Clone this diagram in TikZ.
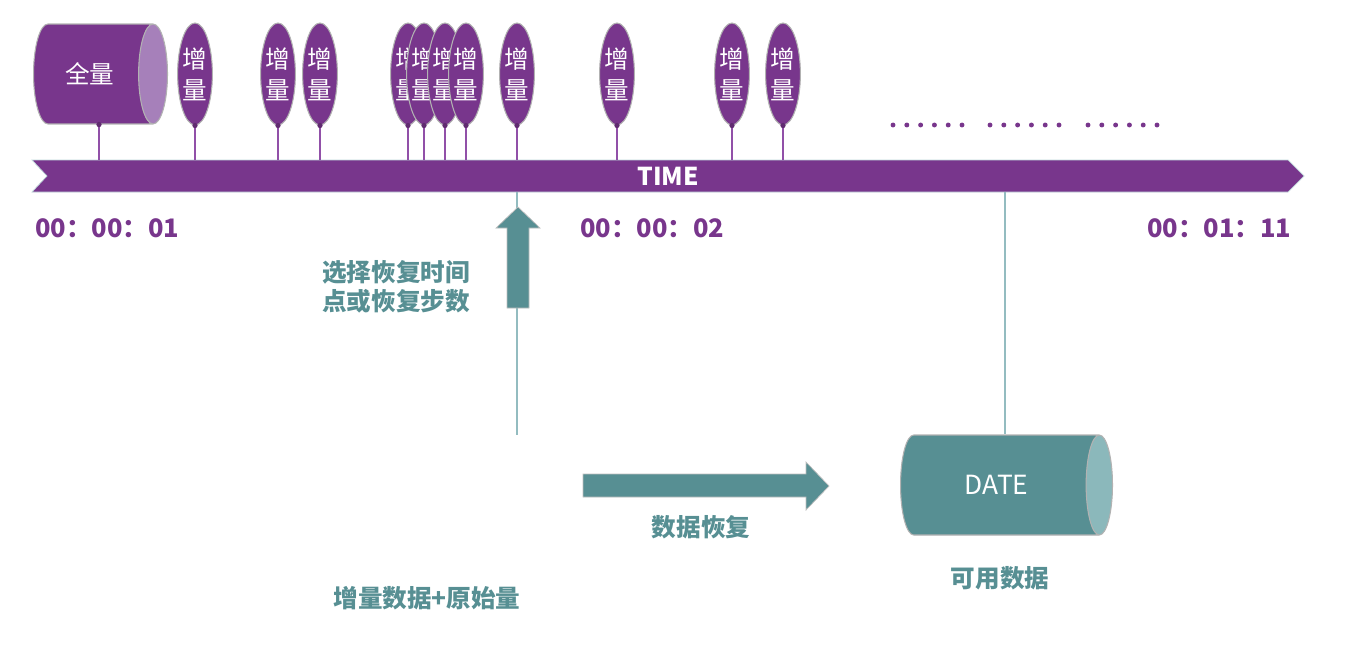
\documentclass[tikz,border=0pt]{standalone}
\usepackage{fontspec}
\setmainfont{Noto Sans CJK SC}
\usepackage{tikz}
\usetikzlibrary{shapes.geometric, positioning, calc}

\definecolor{tlpurple}{HTML}{78368C}
\definecolor{tlpurplelt}{HTML}{A680BA}
\definecolor{stempurple}{HTML}{9150A8}
\definecolor{rcteal}{HTML}{578F93}
\definecolor{rcteallt}{HTML}{8BB8BB}
\definecolor{guideteal}{HTML}{93BCC0}

\begin{document}
\begin{tikzpicture}[x=0.02cm, y=-0.02cm,
        full/.style={cylinder, shape aspect=0.85, cylinder uses custom fill, cylinder body fill=tlpurple, cylinder end fill=tlpurplelt, draw=gray!60, line width=0.6pt, minimum height=2.68cm, minimum width=2cm, text=white, font=\fontsize{14}{16}\selectfont},
        store/.style={cylinder, shape aspect=0.85, cylinder uses custom fill, cylinder body fill=rcteal, cylinder end fill=rcteallt, draw=gray!60, line width=0.6pt, minimum height=4.24cm, minimum width=2cm, text=white, font=\fontsize{15}{17}\selectfont},
        incr/.style={ellipse, draw=gray!60, line width=0.6pt, fill=tlpurple, text=white, minimum width=0.64cm, minimum height=2.04cm, inner sep=0pt, align=center, font=\fontsize{14}{17.5}\selectfont},
        stem/.style={stempurple, line width=1.2pt},
        knob/.style={fill=tlpurple!80!black},
        stamp/.style={text=tlpurple, inner sep=0pt, font=\fontsize{14.5}{16}\selectfont\bfseries},
        note/.style={text=rcteal, inner sep=0pt, font=\fontsize{14}{16.5}\selectfont\bfseries},
        guide/.style={guideteal, line width=0.8pt},
        block/.style={fill=rcteal, draw=gray!50, line width=0.4pt}
    ]
    \useasboundingbox (0,0) rectangle (1348,650);

    % --- 1. TIME LINE ---
    \fill[tlpurple, draw=guideteal!60, line width=0.4pt] (32,160) -- (1288,160) -- (1304,176) -- (1288,192) -- (32,192) -- (47,176) -- cycle;
    \node[text=white, font=\fontsize{14}{16}\selectfont\bfseries] (time) at (668,176) {TIME};

    % --- 2. FULL + INCREMENTAL BACKUPS ---
    \node[full, anchor=west] (full) at (33,74) {全量};
    \coordinate (tick0) at (99,160);
    \draw[stem] (full.south -| tick0) -- (tick0);
    \fill[knob] (full.south -| tick0) circle (1.5pt);

    \foreach \x [count=\i] in {195,278,320,408,424,445,466,517,617,732,783} {
        \node[incr] (inc\i) at (\x,74) {增\\量};
        \coordinate (tick\i) at (\x,160);
        \draw[stem] (inc\i.south) -- (tick\i);
        \fill[knob] (inc\i.south) circle (1.5pt);
    }

    % more to come
    \foreach \g in {893,990,1088}
        \foreach \k in {0,...,5}
            \fill[tlpurple] (\g+\k*13.8,125) circle (1.4pt);

    % time stamps
    \node[stamp, anchor=west] (t1) at (35,228) {00：00：01};
    \node[stamp, anchor=west] (t2) at (580,228) {00：00：02};
    \node[stamp, anchor=west] (t3) at (1147,228) {00：01：11};

    % --- 3. RESTORE ---
    \coordinate (pick) at (517,192);
    \coordinate (pickend) at (517,435);
    \draw[guide] (pick) -- (pickend);
    \fill[block] (507,308) -- (507,228) -- (496,228) -- (518,207) -- (540,228) -- (529,228) -- (529,308) -- cycle;
    \node[note, align=left, anchor=west] (pickTxt) at (322,287) {选择恢复时间\\点或恢复步数};

    \node[store, anchor=west] (date) at (900,485) {DATE};
    \coordinate (dateTick) at (1005,192);
    \draw[guide] (dateTick) -- (date.north -| dateTick);

    \fill[block] (583,474) -- (806,474) -- (806,462) -- (829,486) -- (806,510) -- (806,497) -- (583,497) -- cycle;
    \node[note] (restoreTxt) at (701,527) {数据恢复};
    \node[note] (availTxt) at (1000,578) {可用数据};
    \node[note] (srcTxt) at (427,598) {增量数据+原始量};

\end{tikzpicture}
\end{document}
